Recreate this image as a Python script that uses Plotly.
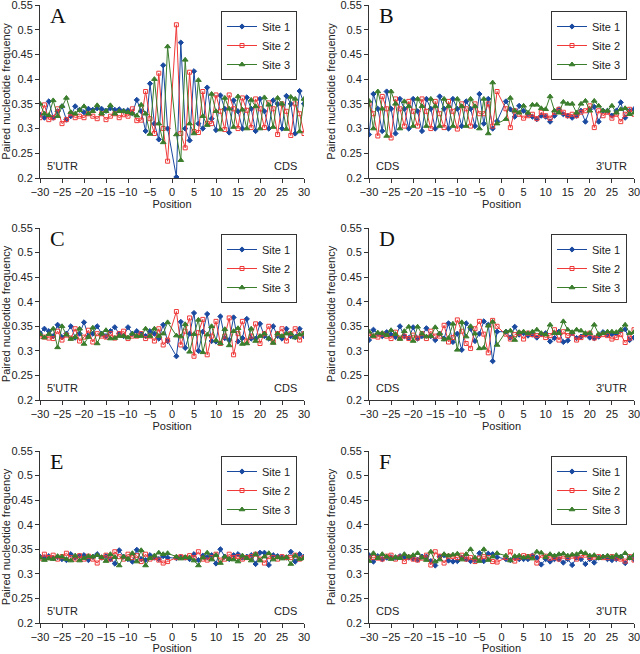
import plotly.graph_objects as go

POSITIONS = [-30, -29, -28, -27, -26, -25, -24, -23, -22, -21, -20, -19, -18, -17, -16,
             -15, -14, -13, -12, -11, -10, -9, -8, -7, -6, -5, -4, -3, -2, -1,
             1, 2, 3, 4, 5, 6, 7, 8, 9, 10, 11, 12, 13, 14, 15,
             16, 17, 18, 19, 20, 21, 22, 23, 24, 25, 26, 27, 28, 29, 30]

SERIES_NAMES = ["Site 1", "Site 2", "Site 3"]
PANEL_LETTERS = ["A", "B", "C", "D", "E", "F"]
LEFT_LABELS = ["5'UTR", "CDS", "5'UTR", "CDS", "5'UTR", "CDS"]
RIGHT_LABELS = ["CDS", "3'UTR", "CDS", "3'UTR", "CDS", "3'UTR"]
X_TICKS = [-30, -25, -20, -15, -10, -5, 0, 5, 10, 15, 20, 25, 30]
Y_TICKS = [0.2, 0.25, 0.3, 0.35, 0.4, 0.45, 0.5, 0.55]
Y_LABELS = ["0.2", "0.25", "0.3", "0.35", "0.4", "0.45", "0.5", "0.55"]

# ---------- Panel A ----------
A_site1 = [0.328, 0.322, 0.355, 0.322, 0.335, 0.345, 0.318, 0.325, 0.345, 0.338,
           0.333, 0.340, 0.338, 0.341, 0.340, 0.336, 0.341, 0.338, 0.339, 0.336,
           0.337, 0.331, 0.358, 0.335, 0.295, 0.391, 0.310, 0.278, 0.428, 0.300,
           0.202, 0.474, 0.300, 0.276, 0.416, 0.310, 0.300, 0.383, 0.320, 0.297,
           0.367, 0.340, 0.292, 0.357, 0.335, 0.300, 0.363, 0.340, 0.295, 0.360,
           0.335, 0.300, 0.357, 0.350, 0.300, 0.366, 0.350, 0.290, 0.376, 0.350]
A_site2 = [0.322, 0.348, 0.318, 0.322, 0.340, 0.310, 0.318, 0.330, 0.322, 0.325,
           0.322, 0.330, 0.325, 0.320, 0.330, 0.318, 0.325, 0.330, 0.322, 0.328,
           0.325, 0.340, 0.316, 0.317, 0.375, 0.320, 0.290, 0.412, 0.300, 0.234,
           0.510, 0.290, 0.261, 0.414, 0.294, 0.292, 0.375, 0.310, 0.310, 0.368,
           0.335, 0.298, 0.368, 0.340, 0.300, 0.362, 0.337, 0.302, 0.360, 0.340,
           0.302, 0.352, 0.340, 0.288, 0.350, 0.335, 0.286, 0.350, 0.330, 0.290]
A_site3 = [0.350, 0.330, 0.327, 0.357, 0.325, 0.345, 0.362, 0.333, 0.330, 0.337,
           0.345, 0.330, 0.335, 0.347, 0.330, 0.335, 0.347, 0.330, 0.335, 0.335,
           0.333, 0.330, 0.326, 0.348, 0.330, 0.289, 0.400, 0.310, 0.272, 0.466,
           0.288, 0.236, 0.439, 0.310, 0.290, 0.398, 0.325, 0.307, 0.370, 0.335,
           0.298, 0.362, 0.340, 0.303, 0.365, 0.338, 0.300, 0.358, 0.345, 0.300,
           0.363, 0.348, 0.303, 0.362, 0.350, 0.299, 0.364, 0.360, 0.294, 0.360]

# ---------- Panel B ----------
B_site1 = [0.288, 0.370, 0.340, 0.295, 0.375, 0.340, 0.290, 0.360, 0.340, 0.300,
           0.360, 0.335, 0.295, 0.360, 0.340, 0.300, 0.365, 0.340, 0.300, 0.360,
           0.340, 0.305, 0.355, 0.340, 0.305, 0.370, 0.310, 0.360, 0.300, 0.315,
           0.355, 0.339, 0.324, 0.346, 0.336, 0.329, 0.324, 0.319, 0.326, 0.324,
           0.314, 0.326, 0.339, 0.329, 0.326, 0.322, 0.326, 0.336, 0.314, 0.339,
           0.344, 0.314, 0.336, 0.336, 0.326, 0.336, 0.353, 0.322, 0.336, 0.339]
B_site2 = [0.350, 0.330, 0.285, 0.365, 0.340, 0.281, 0.360, 0.340, 0.305, 0.355,
           0.335, 0.305, 0.360, 0.335, 0.300, 0.355, 0.330, 0.302, 0.355, 0.335,
           0.299, 0.350, 0.340, 0.305, 0.350, 0.330, 0.330, 0.350, 0.305, 0.375,
           0.340, 0.302, 0.336, 0.329, 0.321, 0.326, 0.329, 0.320, 0.333, 0.326,
           0.321, 0.333, 0.339, 0.333, 0.326, 0.329, 0.326, 0.333, 0.336, 0.346,
           0.302, 0.336, 0.326, 0.333, 0.321, 0.329, 0.314, 0.329, 0.339, 0.329]
B_site3 = [0.356, 0.300, 0.375, 0.340, 0.285, 0.375, 0.350, 0.300, 0.355, 0.345,
           0.305, 0.360, 0.345, 0.305, 0.360, 0.345, 0.305, 0.360, 0.345, 0.305,
           0.360, 0.345, 0.305, 0.360, 0.345, 0.300, 0.360, 0.290, 0.393, 0.310,
           0.319, 0.362, 0.336, 0.332, 0.346, 0.332, 0.348, 0.348, 0.341, 0.339,
           0.365, 0.336, 0.332, 0.354, 0.350, 0.350, 0.332, 0.350, 0.356, 0.336,
           0.356, 0.346, 0.336, 0.336, 0.346, 0.332, 0.339, 0.341, 0.329, 0.332]

# ---------- Panel C ----------
C_site1 = [0.336, 0.345, 0.340, 0.330, 0.353, 0.328, 0.335, 0.350, 0.327, 0.335,
           0.358, 0.330, 0.335, 0.350, 0.335, 0.330, 0.340, 0.348, 0.335, 0.330,
           0.348, 0.335, 0.340, 0.335, 0.330, 0.340, 0.335, 0.325, 0.353, 0.320,
           0.289, 0.359, 0.306, 0.335, 0.377, 0.300, 0.339, 0.375, 0.320, 0.319,
           0.370, 0.326, 0.322, 0.368, 0.319, 0.326, 0.365, 0.325, 0.325, 0.355,
           0.330, 0.325, 0.350, 0.330, 0.325, 0.345, 0.330, 0.328, 0.345, 0.330]
C_site2 = [0.330, 0.328, 0.326, 0.325, 0.340, 0.322, 0.332, 0.326, 0.345, 0.320,
           0.328, 0.342, 0.318, 0.335, 0.330, 0.328, 0.335, 0.326, 0.335, 0.340,
           0.325, 0.330, 0.330, 0.335, 0.325, 0.330, 0.320, 0.345, 0.312, 0.322,
           0.380, 0.312, 0.340, 0.367, 0.289, 0.337, 0.364, 0.292, 0.330, 0.360,
           0.315, 0.330, 0.367, 0.292, 0.335, 0.360, 0.320, 0.330, 0.355, 0.315,
           0.335, 0.350, 0.318, 0.335, 0.345, 0.320, 0.335, 0.345, 0.322, 0.335]
C_site3 = [0.334, 0.327, 0.334, 0.345, 0.307, 0.350, 0.333, 0.324, 0.328, 0.345,
           0.314, 0.328, 0.347, 0.315, 0.335, 0.342, 0.325, 0.326, 0.330, 0.330,
           0.327, 0.335, 0.330, 0.330, 0.345, 0.330, 0.345, 0.330, 0.335, 0.358,
           0.331, 0.329, 0.354, 0.298, 0.334, 0.363, 0.297, 0.333, 0.350, 0.321,
           0.315, 0.344, 0.311, 0.340, 0.346, 0.314, 0.315, 0.345, 0.320, 0.330,
           0.335, 0.325, 0.316, 0.335, 0.330, 0.335, 0.335, 0.327, 0.333, 0.335]

# ---------- Panel D ----------
D_site1 = [0.322, 0.343, 0.335, 0.330, 0.338, 0.333, 0.328, 0.350, 0.330, 0.326,
           0.348, 0.325, 0.330, 0.346, 0.330, 0.322, 0.335, 0.325, 0.356, 0.318,
           0.335, 0.302, 0.356, 0.345, 0.320, 0.335, 0.360, 0.353, 0.279, 0.339,
           0.339, 0.327, 0.349, 0.333, 0.336, 0.331, 0.333, 0.327, 0.334, 0.336,
           0.319, 0.326, 0.339, 0.318, 0.321, 0.336, 0.326, 0.329, 0.333, 0.327,
           0.326, 0.329, 0.338, 0.333, 0.334, 0.335, 0.341, 0.344, 0.322, 0.327]
D_site2 = [0.335, 0.330, 0.328, 0.334, 0.330, 0.325, 0.338, 0.326, 0.330, 0.325,
           0.332, 0.326, 0.335, 0.325, 0.340, 0.330, 0.330, 0.352, 0.318, 0.327,
           0.363, 0.340, 0.315, 0.305, 0.345, 0.360, 0.334, 0.296, 0.362, 0.350,
           0.334, 0.324, 0.333, 0.336, 0.324, 0.336, 0.333, 0.331, 0.333, 0.327,
           0.331, 0.343, 0.322, 0.339, 0.331, 0.336, 0.322, 0.327, 0.333, 0.336,
           0.326, 0.331, 0.333, 0.331, 0.324, 0.327, 0.333, 0.317, 0.326, 0.343]
D_site3 = [0.339, 0.330, 0.337, 0.336, 0.332, 0.342, 0.334, 0.324, 0.340, 0.349,
           0.320, 0.349, 0.335, 0.329, 0.330, 0.348, 0.335, 0.323, 0.326, 0.355,
           0.302, 0.358, 0.329, 0.350, 0.335, 0.305, 0.306, 0.351, 0.359, 0.312,
           0.339, 0.341, 0.322, 0.338, 0.339, 0.336, 0.339, 0.343, 0.336, 0.333,
           0.353, 0.336, 0.336, 0.360, 0.343, 0.338, 0.343, 0.341, 0.336, 0.336,
           0.353, 0.334, 0.336, 0.339, 0.339, 0.338, 0.343, 0.353, 0.336, 0.338]

# ---------- Panel E ----------
E_site1 = [0.335, 0.333, 0.336, 0.332, 0.334, 0.330, 0.328, 0.340, 0.333, 0.336,
           0.338, 0.328, 0.335, 0.340, 0.333, 0.336, 0.330, 0.321, 0.348, 0.335,
           0.330, 0.325, 0.349, 0.330, 0.328, 0.338, 0.333, 0.330, 0.336, 0.333,
           0.332, 0.334, 0.333, 0.330, 0.340, 0.328, 0.337, 0.334, 0.338, 0.321,
           0.350, 0.335, 0.330, 0.338, 0.340, 0.333, 0.335, 0.338, 0.320, 0.343,
           0.343, 0.318, 0.338, 0.336, 0.334, 0.333, 0.345, 0.325, 0.340, 0.335]
E_site2 = [0.332, 0.340, 0.333, 0.338, 0.330, 0.335, 0.342, 0.333, 0.330, 0.337,
           0.330, 0.336, 0.330, 0.322, 0.333, 0.338, 0.330, 0.345, 0.335, 0.330,
           0.340, 0.333, 0.337, 0.325, 0.340, 0.330, 0.333, 0.328, 0.322, 0.325,
           0.333, 0.335, 0.333, 0.337, 0.333, 0.345, 0.330, 0.328, 0.333, 0.340,
           0.328, 0.330, 0.340, 0.333, 0.335, 0.330, 0.333, 0.335, 0.340, 0.330,
           0.322, 0.335, 0.333, 0.330, 0.335, 0.333, 0.333, 0.338, 0.330, 0.333]
E_site3 = [0.333, 0.328, 0.331, 0.330, 0.336, 0.335, 0.330, 0.327, 0.337, 0.327,
           0.332, 0.336, 0.335, 0.338, 0.334, 0.326, 0.340, 0.334, 0.317, 0.335,
           0.330, 0.342, 0.325, 0.348, 0.317, 0.332, 0.337, 0.343, 0.340, 0.342,
           0.335, 0.331, 0.334, 0.333, 0.327, 0.317, 0.333, 0.343, 0.329, 0.338,
           0.322, 0.335, 0.330, 0.329, 0.325, 0.337, 0.332, 0.327, 0.340, 0.327,
           0.335, 0.342, 0.329, 0.334, 0.331, 0.334, 0.320, 0.337, 0.330, 0.332]

# ---------- Panel F ----------
F_site1 = [0.338, 0.325, 0.336, 0.330, 0.333, 0.334, 0.333, 0.336, 0.334, 0.333,
           0.331, 0.329, 0.335, 0.335, 0.326, 0.317, 0.335, 0.338, 0.327, 0.325,
           0.326, 0.333, 0.330, 0.326, 0.328, 0.342, 0.326, 0.341, 0.340, 0.334,
           0.330, 0.328, 0.333, 0.330, 0.330, 0.330, 0.337, 0.333, 0.319, 0.330,
           0.325, 0.330, 0.330, 0.323, 0.330, 0.318, 0.333, 0.330, 0.320, 0.330,
           0.323, 0.333, 0.335, 0.330, 0.328, 0.330, 0.335, 0.322, 0.333, 0.330]
F_site2 = [0.332, 0.333, 0.332, 0.330, 0.336, 0.338, 0.330, 0.334, 0.325, 0.334,
           0.330, 0.328, 0.332, 0.338, 0.318, 0.345, 0.336, 0.322, 0.336, 0.335,
           0.333, 0.338, 0.330, 0.333, 0.325, 0.332, 0.335, 0.333, 0.325, 0.324,
           0.333, 0.345, 0.326, 0.333, 0.337, 0.335, 0.336, 0.322, 0.338, 0.336,
           0.332, 0.333, 0.330, 0.336, 0.333, 0.336, 0.330, 0.337, 0.338, 0.333,
           0.334, 0.335, 0.333, 0.333, 0.335, 0.332, 0.330, 0.326, 0.335, 0.328]
F_site3 = [0.326, 0.342, 0.332, 0.340, 0.335, 0.330, 0.334, 0.332, 0.340, 0.335,
           0.338, 0.342, 0.333, 0.328, 0.345, 0.325, 0.329, 0.340, 0.337, 0.339,
           0.341, 0.329, 0.340, 0.350, 0.333, 0.326, 0.350, 0.328, 0.335, 0.342,
           0.337, 0.327, 0.336, 0.337, 0.333, 0.335, 0.331, 0.345, 0.343, 0.334,
           0.340, 0.337, 0.340, 0.341, 0.337, 0.339, 0.340, 0.344, 0.342, 0.337,
           0.338, 0.332, 0.335, 0.337, 0.334, 0.338, 0.335, 0.342, 0.332, 0.338]

PANELS = [
    [A_site1, A_site2, A_site3],
    [B_site1, B_site2, B_site3],
    [C_site1, C_site2, C_site3],
    [D_site1, D_site2, D_site3],
    [E_site1, E_site2, E_site3],
    [F_site1, F_site2, F_site3],
]

# ---------- styling ----------
W, H = 640, 654
FONT = "Liberation Sans, Arial, sans-serif"
COLORS = ["#1a4aa0", "#f03a3a", "#3a7d2c"]
SYMBOLS = ["diamond", "square-open", "triangle-up"]
SIZES = [4, 4, 5]

COL_PX = [(40, 304), (369, 634)]
ROW_PX = [(5, 178), (228, 400), (451, 623)]
LEG_RIGHT_PX = [297, 627]
LEG_TOP_PX = [11, 234, 456]

fig = go.Figure()
layout = dict(
    width=W, height=H,
    margin=dict(l=0, r=0, t=0, b=0),
    paper_bgcolor="white", plot_bgcolor="white",
    font=dict(family=FONT, size=11, color="#222"),
    annotations=[],
)

for i, series in enumerate(PANELS):
    r, c = divmod(i, 2)
    sfx = "" if i == 0 else str(i + 1)
    xa, ya = "x" + sfx, "y" + sfx
    leg = "legend" + sfx
    for j, vals in enumerate(series):
        fig.add_trace(go.Scatter(
            x=POSITIONS, y=vals, name=SERIES_NAMES[j], mode="lines+markers",
            line=dict(color=COLORS[j], width=1),
            marker=dict(symbol=SYMBOLS[j], size=SIZES[j], color=COLORS[j],
                        line=dict(color=COLORS[j], width=1)),
            xaxis=xa, yaxis=ya, legend=leg, showlegend=True,
        ))
    x0, x1 = COL_PX[c]
    y0, y1 = ROW_PX[r]
    layout["xaxis" + sfx] = dict(
        domain=[x0 / W, x1 / W], anchor=ya, range=[-30, 30],
        tickvals=X_TICKS, ticks="outside", ticklen=4, tickcolor="#333",
        showline=True, linecolor="#333", linewidth=1, showgrid=False, zeroline=False,
        tickfont=dict(size=11, color="#222", family=FONT), ticklabeloverflow="allow",
        title=dict(text="Position", font=dict(size=11, color="#222", family=FONT), standoff=2),
        automargin=False,
    )
    layout["yaxis" + sfx] = dict(
        domain=[1 - y1 / H, 1 - y0 / H], anchor=xa, range=[0.2, 0.55],
        tickvals=Y_TICKS, ticktext=Y_LABELS, ticks="outside", ticklen=4, tickcolor="#333",
        showline=True, linecolor="#333", linewidth=1, showgrid=False, zeroline=False,
        tickfont=dict(size=11, color="#222", family=FONT), ticklabeloverflow="allow",
        title=dict(text="Paired nucleotide frequency", font=dict(size=11, color="#222", family=FONT), standoff=2),
        automargin=False,
    )
    layout[leg] = dict(
        x=LEG_RIGHT_PX[c] / W, y=1 - LEG_TOP_PX[r] / H, xanchor="right", yanchor="top",
        bgcolor="white", bordercolor="#333", borderwidth=1,
        font=dict(size=11, color="#222", family=FONT), tracegroupgap=0, itemwidth=30,
    )
    layout["annotations"] += [
        dict(text=PANEL_LETTERS[i], xref=xa + " domain", yref=ya + " domain",
             x=0.03, y=1.025, xanchor="left", yanchor="top", showarrow=False,
             font=dict(family="Liberation Serif, Times New Roman, serif", size=22, color="#111")),
        dict(text=LEFT_LABELS[i], xref=xa + " domain", yref=ya + " domain",
             x=0.02, y=0.07, xanchor="left", yanchor="middle", showarrow=False,
             font=dict(size=11, color="#222", family=FONT)),
        dict(text=RIGHT_LABELS[i], xref=xa + " domain", yref=ya + " domain",
             x=0.98, y=0.07, xanchor="right", yanchor="middle", showarrow=False,
             font=dict(size=11, color="#222", family=FONT)),
    ]

fig.update_layout(**layout)
fig.write_html("out.html", config={"displayModeBar": False},
               post_script="document.body.style.margin='0';document.body.style.padding='0';document.body.style.overflow='hidden';")
